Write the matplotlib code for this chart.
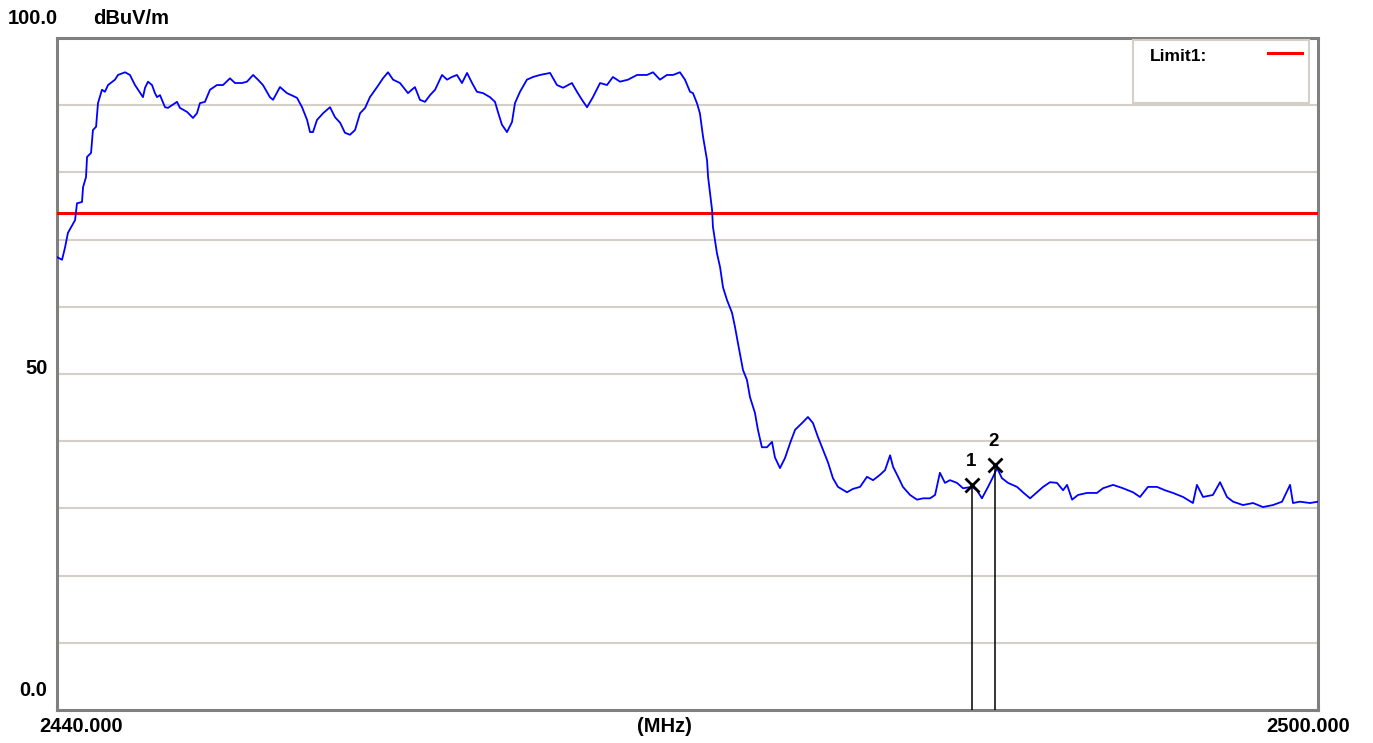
import matplotlib
matplotlib.use("Agg")
import matplotlib.pyplot as plt
from matplotlib.patches import Rectangle
from matplotlib.lines import Line2D

# trace (MHz, dBuV/m)
freq = [
    2440.00, 2440.24, 2440.38, 2440.52, 2440.86, 2440.95, 2441.19, 2441.24, 2441.38, 2441.43,
    2441.62, 2441.71, 2441.86, 2441.95, 2442.14, 2442.28, 2442.43, 2442.76, 2442.90, 2443.24,
    2443.47, 2443.71, 2444.09, 2444.19, 2444.33, 2444.52, 2444.66, 2444.76, 2444.90, 2445.14,
    2445.28, 2445.47, 2445.71, 2445.85, 2446.19, 2446.47, 2446.66, 2446.80, 2447.04, 2447.28,
    2447.61, 2447.90, 2448.23, 2448.47, 2448.80, 2449.04, 2449.33, 2449.56, 2449.80, 2450.13,
    2450.28, 2450.61, 2450.94, 2451.42, 2451.66, 2451.90, 2452.04, 2452.18, 2452.37, 2452.66,
    2452.99, 2453.23, 2453.47, 2453.70, 2453.94, 2454.18, 2454.42, 2454.66, 2454.89, 2455.23,
    2455.51, 2455.75, 2455.99, 2456.32, 2456.70, 2457.03, 2457.27, 2457.51, 2457.75, 2457.99,
    2458.32, 2458.56, 2458.79, 2459.03, 2459.27, 2459.51, 2459.75, 2459.98, 2460.27, 2460.60,
    2460.84, 2460.98, 2461.17, 2461.41, 2461.65, 2461.79, 2462.03, 2462.36, 2462.65, 2462.98,
    2463.46, 2463.79, 2464.08, 2464.50, 2464.74, 2464.98, 2465.22, 2465.50, 2465.84, 2466.17,
    2466.45, 2466.79, 2467.17, 2467.60, 2468.07, 2468.36, 2468.69, 2469.02, 2469.31, 2469.64,
    2469.88, 2470.12, 2470.26, 2470.45, 2470.59, 2470.74, 2470.93, 2470.98, 2471.17, 2471.21,
    2471.40, 2471.55, 2471.69, 2471.88, 2472.12, 2472.26, 2472.40, 2472.64, 2472.83, 2472.97,
    2473.21, 2473.35, 2473.54, 2473.78, 2474.02, 2474.16, 2474.40, 2474.64, 2474.88, 2475.12,
    2475.45, 2475.73, 2475.97, 2476.21, 2476.45, 2476.69, 2476.92, 2477.16, 2477.59, 2477.87,
    2478.21, 2478.54, 2478.83, 2479.16, 2479.40, 2479.64, 2479.78, 2480.02, 2480.25, 2480.59,
    2480.92, 2481.21, 2481.54, 2481.78, 2482.01, 2482.25, 2482.49, 2482.82, 2483.11, 2483.54,
    2483.77, 2484.01, 2484.30, 2484.54, 2484.73, 2484.96, 2485.25, 2485.68, 2485.96, 2486.30,
    2486.63, 2486.92, 2487.25, 2487.58, 2487.87, 2488.06, 2488.30, 2488.58, 2489.01, 2489.48,
    2489.77, 2490.25, 2490.72, 2491.20, 2491.53, 2491.91, 2492.34, 2492.72, 2493.10, 2493.58,
    2494.05, 2494.24, 2494.53, 2495.00, 2495.34, 2495.67, 2495.96, 2496.43, 2496.91, 2497.38,
    2497.86, 2498.29, 2498.67, 2498.81, 2499.14, 2499.62, 2500.00,
]
level = [
    67.4, 67.0, 68.8, 71.0, 72.9, 75.4, 75.6, 77.8, 79.3, 82.3,
    82.9, 86.3, 86.8, 90.3, 92.3, 92.0, 93.0, 93.8, 94.5, 94.9,
    94.5, 93.0, 91.2, 92.6, 93.5, 93.0, 91.8, 91.2, 91.5, 89.7,
    89.6, 90.0, 90.5, 89.6, 89.0, 88.1, 88.8, 90.3, 90.5, 92.3,
    93.0, 93.0, 94.0, 93.3, 93.3, 93.5, 94.5, 93.8, 93.0, 91.2,
    90.8, 92.7, 91.8, 91.1, 89.7, 87.8, 86.0, 86.0, 87.8, 88.8,
    89.7, 88.2, 87.4, 85.9, 85.6, 86.3, 88.8, 89.6, 91.2, 92.7,
    94.0, 94.9, 93.8, 93.3, 91.8, 92.7, 90.8, 90.5, 91.5, 92.3,
    94.5, 93.8, 94.2, 94.5, 93.3, 94.8, 93.3, 92.0, 91.8, 91.2,
    90.5, 89.0, 87.1, 86.0, 87.5, 90.3, 92.0, 93.8, 94.2, 94.5,
    94.8, 93.0, 92.6, 93.3, 92.0, 90.8, 89.7, 91.2, 93.3, 93.0,
    94.2, 93.5, 93.8, 94.5, 94.5, 94.9, 93.8, 94.5, 94.5, 94.9,
    93.8, 92.0, 91.8, 90.3, 88.8, 85.3, 81.8, 79.3, 74.4, 71.9,
    68.0, 65.9, 62.9, 61.0, 59.1, 57.0, 54.6, 50.6, 49.1, 46.6,
    44.2, 41.7, 39.1, 39.1, 39.9, 37.6, 36.0, 37.5, 39.7, 41.7,
    42.7, 43.6, 42.7, 40.6, 38.7, 36.8, 34.5, 33.2, 32.4, 32.9,
    33.2, 34.7, 34.2, 35.0, 35.7, 37.9, 36.2, 34.7, 33.2, 32.0,
    31.3, 31.5, 31.5, 32.0, 35.3, 33.8, 34.2, 33.8, 33.0, 33.2,
    32.7, 31.5, 33.2, 34.7, 36.0, 34.5, 33.8, 33.2, 32.4, 31.5,
    32.4, 33.2, 33.9, 33.8, 32.7, 33.5, 31.3, 32.0, 32.3, 32.3,
    33.0, 33.5, 33.0, 32.4, 31.7, 33.2, 33.2, 32.7, 32.3, 31.7,
    30.8, 33.5, 31.7, 32.0, 33.9, 31.7, 31.0, 30.5, 30.8, 30.2,
    30.5, 31.0, 33.5, 30.8, 31.0, 30.8, 31.0,
]

limit1 = 74.0
marker_freq = [2483.54, 2484.63]
marker_level = [33.5, 36.5]
marker_names = ["1", "2"]

grid_color = "#d4d0c8"
frame_color = "#808080"

fig = plt.figure(figsize=(13.73, 7.43), dpi=100)
ax = fig.add_axes([57 / 1373, 1 - 710 / 743, 1261 / 1373, 672 / 743])
ax.set_xlim(2440, 2500)
ax.set_ylim(0, 100)

for g in range(10, 100, 10):
    ax.axhline(g, color=grid_color, lw=1.5, zorder=1)

ax.axhline(limit1, color="red", lw=2.2, zorder=3)
ax.plot(freq, level, color="#0000ff", lw=1.3, zorder=4)

# markers with drop lines to the bottom
for f, v, n in zip(marker_freq, marker_level, marker_names):
    ax.plot([f, f], [0, v], color="black", lw=1.1, zorder=5)
    ax.plot(f, v, marker="x", color="black", ms=10, mew=2, zorder=6)
    ax.annotate(n, (f, v), xytext=(-1, 17), textcoords="offset points",
                ha="center", va="center", fontsize=13.5, fontweight="bold",
                family="Liberation Sans")

ax.set_xticks([])
ax.set_yticks([])
for s in ax.spines.values():
    s.set_color(frame_color)
    s.set_linewidth(2.2)

# legend box drawn like the analyser's
ax.add_patch(Rectangle((0.853, 0.903), 0.140, 0.094, transform=ax.transAxes,
                       facecolor="white", edgecolor=grid_color, lw=1.5, zorder=7))
ax.text(0.867, 0.973, "Limit1:", transform=ax.transAxes, ha="left", va="center",
        fontsize=12.5, fontweight="bold", family="Liberation Sans", zorder=8)
ax.add_line(Line2D([0.960, 0.987], [0.978, 0.978], transform=ax.transAxes,
                   color="red", lw=2.2, zorder=8))

lab = dict(fontsize=14.5, fontweight="bold", family="Liberation Sans")
fig.text(8 / 1373, 1 - 18 / 743, "100.0", ha="left", va="center", **lab)
fig.text(93 / 1373, 1 - 18 / 743, "dBuV/m", ha="left", va="center", **lab)
fig.text(48 / 1373, 1 - 369 / 743, "50", ha="right", va="center", **lab)
fig.text(47 / 1373, 1 - 690 / 743, "0.0", ha="right", va="center", **lab)
fig.text(81 / 1373, 1 - 727 / 743, "2440.000", ha="center", va="center", **lab)
fig.text(664 / 1373, 1 - 727 / 743, "(MHz)", ha="center", va="center", **lab)
fig.text(1308 / 1373, 1 - 727 / 743, "2500.000", ha="center", va="center", **lab)

plt.savefig("out.png", dpi=100)
